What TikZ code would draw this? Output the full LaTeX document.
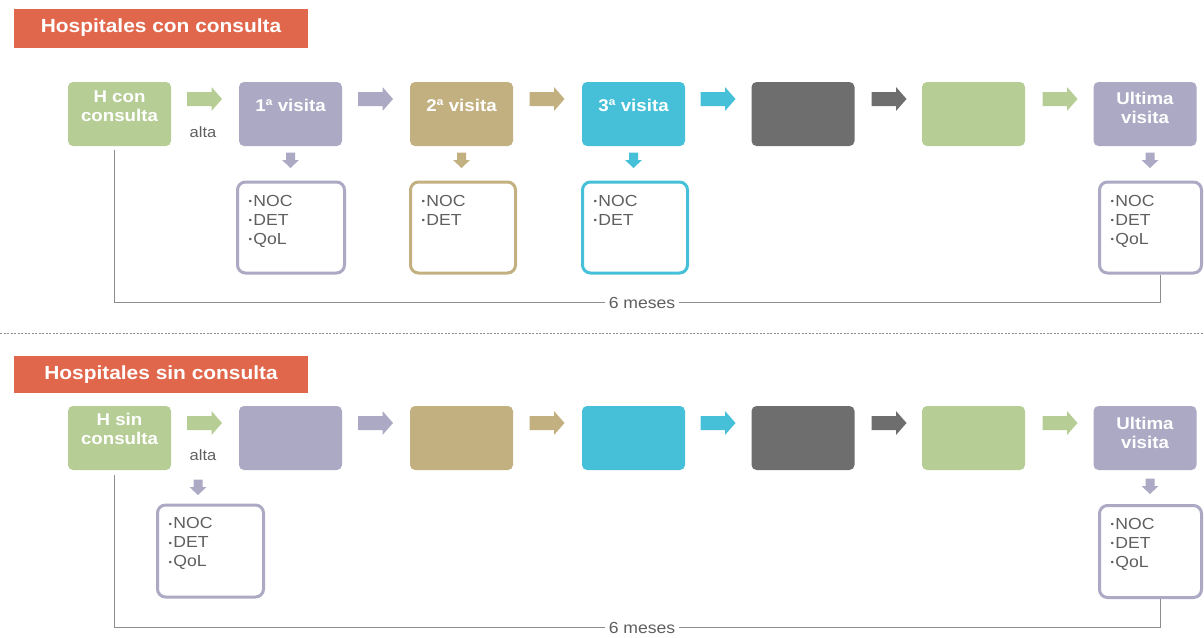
\documentclass[tikz,border=0pt]{standalone}
\usepackage{fontspec}
\setmainfont{Liberation Sans}[FakeStretch=1.1]
\usetikzlibrary{calc}
\definecolor{banner}{RGB}{225,103,76}
\definecolor{cgreen}{RGB}{182,205,149}
\definecolor{clav}{RGB}{171,169,195}
\definecolor{ctan}{RGB}{194,176,128}
\definecolor{ccyan}{RGB}{70,192,216}
\definecolor{cdark}{RGB}{110,110,110}
\definecolor{txtgray}{RGB}{95,95,95}
\definecolor{linegray}{RGB}{140,140,140}
\tikzset{
  bannerbox/.style={fill=banner,text=white,font=\fontsize{19}{22}\selectfont\bfseries,minimum width=294pt,minimum height=39pt,inner sep=0pt},
  stagebox/.style={fill=#1,rounded corners=5pt,minimum width=103pt,minimum height=64pt,inner sep=0pt},
  stagetxt/.style={text=white,font=\fontsize{17}{19}\selectfont\bfseries,align=center,inner sep=0pt,anchor=north},
  rarr/.pic={\fill[#1] (-17.5,-7) -- (7,-7) -- (7,-12) -- (17.5,0) -- (7,12) -- (7,7) -- (-17.5,7) -- cycle;},
  darr/.pic={\fill[#1] (-4.5,-7.5) -- (4.5,-7.5) -- (4.5,0) -- (8.5,0) -- (0,8) -- (-8.5,0) -- (-4.5,0) -- cycle;},
  infobox/.style={draw=#1,line width=3pt,fill=white,rounded corners=8pt,inner sep=0pt},
  infotxt/.style={text=txtgray,font=\fontsize{16}{19}\selectfont,align=left,inner sep=0pt,anchor=north west},
  smalltxt/.style={text=txtgray,font=\fontsize{15}{17}\selectfont,inner sep=0pt},
  bracket/.style={draw=linegray,line width=1pt},
  durlabel/.style={fill=white,text=txtgray,font=\fontsize{16}{18}\selectfont,inner xsep=4pt,inner ysep=2pt},
}
\newcommand{\bl}{{\fontsize{9}{9}\selectfont\raisebox{1.5pt}{•}}\kern1.2pt}
\begin{document}
\begin{tikzpicture}[x=1pt,y=-1pt]
\useasboundingbox (0,0) rectangle (1204,637);
% ---------- top section ----------
\node[bannerbox] (ban1) at (161,28) {Hospitales con consulta};
\node[stagebox=cgreen] (a0) at (119.5,114) {};
\node[stagebox=clav]   (a1) at (290.5,114) {};
\node[stagebox=ctan]   (a2) at (461.5,114) {};
\node[stagebox=ccyan]  (a3) at (633.5,114) {};
\node[stagebox=cdark]  (a4) at (803,114) {};
\node[stagebox=cgreen] (a5) at (973.5,114) {};
\node[stagebox=clav]   (a6) at (1145,114) {};
\node[stagetxt] (a0t) at ($(a0.north)+(0,8.5)$) {H con\\consulta};
\node[stagetxt] (a1t) at ($(a1.north)+(0,17)$) {1ª visita};
\node[stagetxt] (a2t) at ($(a2.north)+(0,17)$) {2ª visita};
\node[stagetxt] (a3t) at ($(a3.north)+(0,17)$) {3ª visita};
\node[stagetxt] (a6t) at ($(a6.north)+(0,10.5)$) {Ultima\\visita};
\pic at (204.5,99) {rarr=cgreen};
\pic at (375.5,99) {rarr=clav};
\pic at (547,99) {rarr=ctan};
\pic at (718,99) {rarr=ccyan};
\pic at (889,99) {rarr=cdark};
\pic at (1060,99) {rarr=cgreen};
\node[smalltxt] (alta1) at (203,132) {alta};
\pic at (290.5,160) {darr=clav};
\pic at (461.5,160) {darr=ctan};
\pic at (633.5,160) {darr=ccyan};
\pic at (1150,160) {darr=clav};
\node[infobox=clav,minimum width=107pt,minimum height=91pt] (i1) at (291,227.5) {};
\node[infobox=ctan,minimum width=105pt,minimum height=91pt] (i2) at (463,227.5) {};
\node[infobox=ccyan,minimum width=105pt,minimum height=91pt] (i3) at (635,227.5) {};
\node[infobox=clav,minimum width=102pt,minimum height=91pt] (i6) at (1150.5,227.5) {};
\node[infotxt] (i1t) at ($(i1.north west)+(12.5,14.5)$) {\bl NOC\\\bl DET\\\bl QoL};
\node[infotxt] (i2t) at ($(i2.north west)+(12.5,14.5)$) {\bl NOC\\\bl DET};
\node[infotxt] (i3t) at ($(i3.north west)+(12.5,14.5)$) {\bl NOC\\\bl DET};
\node[infotxt] (i6t) at ($(i6.north west)+(12.5,14.5)$) {\bl NOC\\\bl DET\\\bl QoL};
\coordinate (s1) at ($(a0.south)+(-5.5,4)$);
\coordinate (e1) at ($(i6.south)+(9.5,0)$);
\draw[bracket] (s1) -- (s1 |- 0,302) -- (e1 |- 0,302) -- (e1);
\node[durlabel] (m1) at (642,303) {6 meses};
% ---------- separator ----------
\coordinate (sepL) at (0,333);
\coordinate (sepR) at (1204,333);
\draw[linegray,line width=0.8pt,dash pattern=on 2pt off 1.5pt] (sepL) -- (sepR);
% ---------- bottom section ----------
\node[bannerbox,minimum height=37pt] (ban2) at (161,374.5) {Hospitales sin consulta};
\node[stagebox=cgreen] (b0) at (119.5,438) {};
\node[stagebox=clav]   (b1) at (290.5,438) {};
\node[stagebox=ctan]   (b2) at (461.5,438) {};
\node[stagebox=ccyan]  (b3) at (633.5,438) {};
\node[stagebox=cdark]  (b4) at (803,438) {};
\node[stagebox=cgreen] (b5) at (973.5,438) {};
\node[stagebox=clav]   (b6) at (1145,438) {};
\node[stagetxt] (b0t) at ($(b0.north)+(0,7)$) {H sin\\consulta};
\node[stagetxt] (b6t) at ($(b6.north)+(0,11)$) {Ultima\\visita};
\pic at (204.5,423) {rarr=cgreen};
\pic at (375.5,423) {rarr=clav};
\pic at (547,423) {rarr=ctan};
\pic at (718,423) {rarr=ccyan};
\pic at (889,423) {rarr=cdark};
\pic at (1060,423) {rarr=cgreen};
\node[smalltxt] (alta2) at (203,455) {alta};
\pic at (198,487) {darr=clav};
\pic at (1150,486) {darr=clav};
\node[infobox=clav,minimum width=106pt,minimum height=92pt] (j0) at (210.5,551) {};
\node[infobox=clav,minimum width=102pt,minimum height=92pt] (j6) at (1150.5,551.5) {};
\node[infotxt] (j0t) at ($(j0.north west)+(12.5,14)$) {\bl NOC\\\bl DET\\\bl QoL};
\node[infotxt] (j6t) at ($(j6.north west)+(12.5,14)$) {\bl NOC\\\bl DET\\\bl QoL};
\coordinate (s2) at ($(b0.south)+(-5.5,5)$);
\coordinate (e2) at ($(j6.south)+(9.5,0)$);
\draw[bracket] (s2) -- (s2 |- 0,627) -- (e2 |- 0,627) -- (e2);
\node[durlabel] (m2) at (642,628) {6 meses};
\end{tikzpicture}
\end{document}
